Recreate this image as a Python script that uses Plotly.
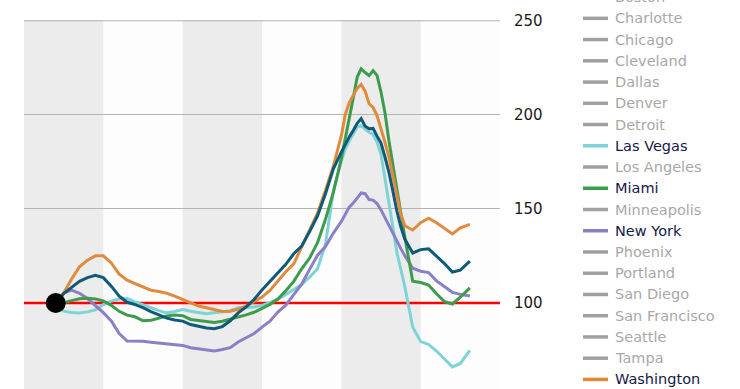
import plotly.graph_objects as go

# ---------------- data (index, start = 100) ----------------
years = [1987.0, 1987.5, 1988.0, 1988.5, 1989.0, 1989.5, 1990.0, 1990.5, 1991.0, 1991.5,
         1992.0, 1992.5, 1993.0, 1993.5, 1994.0, 1994.5, 1995.0, 1995.5, 1996.0, 1996.5,
         1997.0, 1997.5, 1998.0, 1998.5, 1999.0, 1999.5, 2000.0, 2000.5, 2001.0, 2001.5,
         2002.0, 2002.5, 2003.0, 2003.5, 2004.0, 2004.5, 2005.0, 2005.25, 2005.5, 2005.75,
         2006.0, 2006.25, 2006.5, 2006.75, 2007.0, 2007.25, 2007.5, 2007.75, 2008.0, 2008.25,
         2008.5, 2008.75, 2009.0, 2009.5, 2010.0, 2010.5, 2011.0, 2011.5, 2012.0, 2012.5,
         2013.1]

washington = [100.0, 105.3, 112.8, 119.3, 122.8, 125.1, 125.1, 121.3, 115.4, 112.2,
              110.3, 108.4, 106.8, 106.1, 105.2, 103.7, 102.0, 100.2, 98.4, 97.5,
              96.5, 95.5, 95.7, 96.7, 98.4, 100.6, 103.2, 106.7, 111.8, 116.6,
              120.8, 129.8, 139.3, 147.8, 159.8, 172.8, 188.9, 200.2, 206.5, 210.5,
              214.1, 216.2, 212.6, 205.9, 203.9, 199.6, 192.8, 185.4, 177.7, 168.1,
              158.5, 147.3, 141.1, 138.8, 142.7, 145.1, 142.7, 139.9, 136.7, 140.0,
              141.8]

composite = [100.0, 105.0, 108.3, 111.5, 113.5, 114.7, 113.5, 109.0, 103.7, 100.4,
             99.2, 97.6, 95.5, 93.6, 92.0, 91.0, 90.4, 88.6, 87.6, 86.7,
             86.4, 87.5, 90.6, 94.8, 98.0, 101.9, 107.0, 111.7, 115.9, 120.6,
             126.2, 130.3, 138.0, 146.3, 158.1, 171.3, 180.2, 184.6, 188.3, 191.7,
             195.5, 198.0, 194.0, 192.6, 192.8, 188.7, 185.0, 177.6, 169.5, 159.5,
             148.9, 140.5, 134.0, 126.6, 128.4, 128.8, 125.0, 121.0, 116.5, 117.5,
             122.3]

las_vegas = [100.0, 95.7, 95.0, 94.7, 95.3, 96.4, 99.2, 101.0, 102.1, 102.4,
             100.6, 98.9, 97.5, 96.0, 94.8, 95.5, 96.5, 95.7, 95.0, 94.3,
             94.9, 95.3, 95.9, 97.5, 97.5, 97.9, 98.8, 100.2, 101.9, 104.6,
             107.2, 109.8, 113.7, 118.2, 131.3, 159.5, 175.4, 181.8, 186.1, 189.8,
             193.5, 194.2, 192.4, 190.7, 189.6, 185.6, 179.0, 166.7, 153.5, 140.1,
             126.9, 117.7, 108.8, 87.2, 79.5, 78.0, 74.5, 70.3, 66.1, 67.9,
             74.8]

miami = [100.0, 100.2, 101.3, 102.3, 102.6, 102.2, 101.1, 98.8, 95.6, 93.6,
         92.7, 90.6, 90.9, 92.1, 93.1, 93.6, 93.3, 91.3, 90.8, 90.2,
         89.7, 90.3, 91.3, 92.5, 93.7, 95.1, 97.2, 99.3, 102.1, 106.5,
         111.5, 118.2, 123.9, 132.1, 144.5, 158.9, 176.8, 186.9, 197.2, 208.9,
         220.1, 224.5, 222.5, 220.8, 223.5, 221.0, 212.1, 201.1, 186.2, 172.9,
         160.2, 147.4, 135.1, 111.6, 110.9, 109.6, 104.9, 100.8, 99.5, 103.1,
         108.1]

new_york = [100.0, 105.3, 106.9, 105.2, 102.4, 98.8, 94.9, 90.5, 83.8, 79.8,
            79.8, 79.7, 79.2, 78.8, 78.4, 78.0, 77.5, 76.3, 75.6, 74.8,
            74.5, 75.3, 76.3, 79.3, 81.5, 83.8, 87.2, 90.4, 95.2, 98.9,
            104.5, 110.0, 117.9, 125.4, 130.0, 137.2, 143.3, 147.1, 151.0, 153.1,
            156.0, 158.5, 158.1, 155.0, 154.7, 152.9, 149.5, 145.3, 141.6, 136.9,
            132.7, 128.9, 125.2, 118.5, 116.9, 116.2, 111.8, 108.8, 105.7, 104.6,
            103.7]

y_ticks = [100, 150, 200, 250]
baseline = 100
x_range = [1985, 2015]
band_years = [(1985, 1990), (1995, 2000), (2005, 2010)]

legend_names = ["Boston", "Charlotte", "Chicago", "Cleveland", "Dallas", "Denver",
                "Detroit", "Las Vegas", "Los Angeles", "Miami", "Minneapolis",
                "New York", "Phoenix", "Portland", "San Diego", "San Francisco",
                "Seattle", "Tampa", "Washington"]

# ---------------- styles ----------------
COL = {"Washington": "#e08a3c", "Composite": "#0f5a78", "Las Vegas": "#7fd3d5",
       "Miami": "#3d9c4c", "New York": "#8a80c8"}
GRAY_TXT = "#a8a8a8"
GRAY_SW = "#a0a0a0"
ACTIVE_TXT = "#16184a"
GRID = "#b3b3b3"
FONT = "DejaVu Sans"

W, H = 740, 389
L, R, T, B = 24, 240, 20, 0
PW, PH = W - L - R, H - T - B
Y_TOP = 250.4
PX_PER_UNIT = 94.1 / 50


def px2paper_x(px):
    return (px - L) / PW


def px2paper_y(py):
    return (H - B - py) / PH


fig = go.Figure()

# top grid line (at the plot edge) and the baseline at 100, under the series
fig.add_trace(go.Scatter(x=x_range, y=[y_ticks[-1], y_ticks[-1]], mode="lines",
                         line=dict(color=GRID, width=1.2),
                         showlegend=False, hoverinfo="skip", cliponaxis=False))
fig.add_trace(go.Scatter(x=x_range, y=[baseline, baseline], mode="lines",
                         line=dict(color="#ff0000", width=2.5),
                         showlegend=False, hoverinfo="skip", cliponaxis=False))

series = [("Las Vegas", las_vegas), ("New York", new_york), ("Miami", miami),
          ("Washington", washington), ("Composite", composite)]
for name, vals in series:
    fig.add_trace(go.Scatter(x=years, y=vals, mode="lines", name=name,
                             line=dict(color=COL[name], width=3),
                             showlegend=False, hoverinfo="skip"))

# start marker
fig.add_trace(go.Scatter(x=[years[0]], y=[new_york[0]], mode="markers",
                         marker=dict(color="black", size=20),
                         showlegend=False, hoverinfo="skip", cliponaxis=False))

shapes = []
for a, b in band_years:
    shapes.append(dict(type="rect", xref="x", yref="paper", x0=a, x1=b, y0=0, y1=1,
                       fillcolor="#ececec", line=dict(width=0), layer="below"))

annotations = []
row0, step = -2.9, 21.24
for i, nm in enumerate(legend_names):
    yy = px2paper_y(row0 + i * step)
    active = nm in COL
    shapes.append(dict(type="line", xref="paper", yref="paper",
                       x0=px2paper_x(583), x1=px2paper_x(608), y0=yy, y1=yy,
                       line=dict(color=COL[nm] if active else GRAY_SW, width=3.5)))
    annotations.append(dict(xref="paper", yref="paper", x=px2paper_x(613), y=yy,
                            xanchor="left", yanchor="middle", showarrow=False,
                            text=nm, font=dict(family=FONT, size=14.5,
                                               color=ACTIVE_TXT if active else GRAY_TXT)))

fig.update_layout(
    width=W, height=H,
    margin=dict(l=L, r=R, t=T, b=B, pad=0),
    paper_bgcolor="white", plot_bgcolor="#fdfdfd",
    shapes=shapes, annotations=annotations,
    xaxis=dict(range=x_range, showgrid=False, showticklabels=False,
               zeroline=False, showline=False, ticks=""),
    yaxis=dict(range=[Y_TOP - PH / PX_PER_UNIT, Y_TOP], side="right",
               tickvals=y_ticks, ticktext=[str(v) for v in y_ticks],
               showgrid=True, gridcolor=GRID, gridwidth=1,
               zeroline=False, showline=False,
               ticks="outside", ticklen=10, tickcolor="rgba(0,0,0,0)",
               tickfont=dict(family=FONT, size=15, color="#1a1a1a")),
    showlegend=False,
)

fig.write_html("out.html", config={"displayModeBar": False},
               post_script="document.body.style.margin='0';document.body.style.padding='0';")
